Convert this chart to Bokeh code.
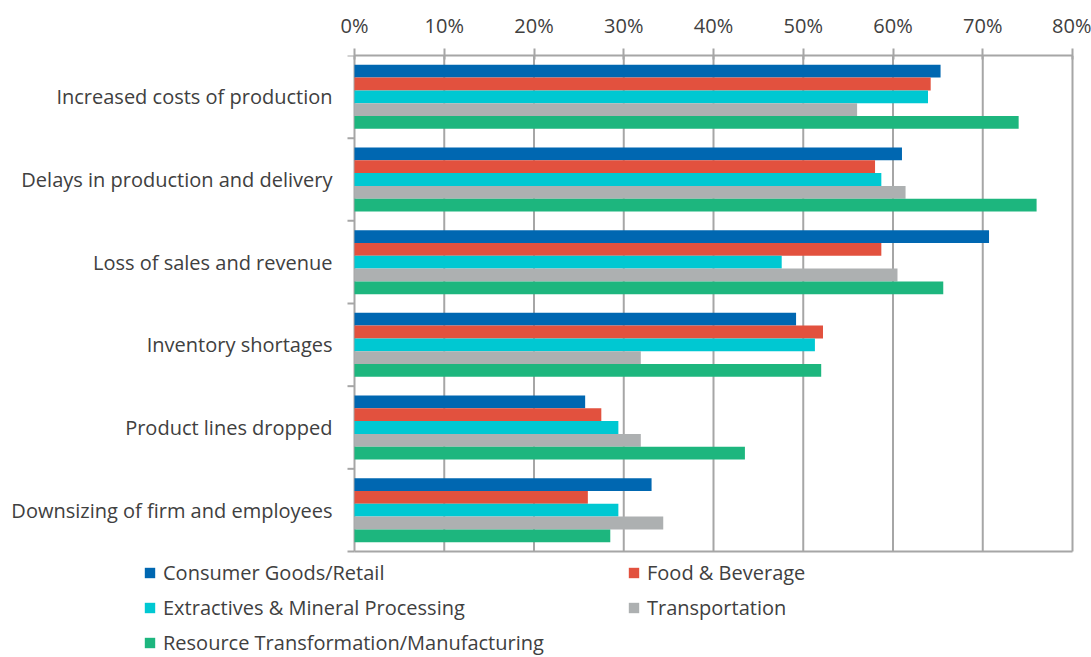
import numpy as np
from bokeh.plotting import figure
from bokeh.models import (ColumnDataSource, Range1d, FixedTicker, NumeralTickFormatter,
                          Legend, LegendItem, LinearAxis)
from bokeh.core.properties import value
from bokeh.embed import file_html
from bokeh.resources import INLINE

categories = ["Increased costs of production", "Delays in production and delivery",
              "Loss of sales and revenue", "Inventory shortages",
              "Product lines dropped", "Downsizing of firm and employees"]
series_names = ["Consumer Goods/Retail", "Food & Beverage", "Extractives & Mineral Processing",
                "Transportation", "Resource Transformation/Manufacturing"]
consumer = [0.653, 0.610, 0.707, 0.492, 0.257, 0.331]
food = [0.642, 0.580, 0.587, 0.522, 0.275, 0.260]
extractives = [0.639, 0.587, 0.476, 0.513, 0.294, 0.294]
transportation = [0.560, 0.614, 0.605, 0.319, 0.319, 0.344]
resource = [0.740, 0.760, 0.656, 0.520, 0.435, 0.285]
colors = ["#0067B1", "#E2513E", "#00C8D2", "#ADB0B1", "#1DB67E"]
x_ticks = [0, 0.1, 0.2, 0.3, 0.4, 0.5, 0.6, 0.7, 0.8]

FONT = "Open Sans"
FS = "20px"
TXT = "#404040"
GRID = "#A6A6A6"

# frame spans the whole canvas width; 0% sits at px 354 and 80% at px 1072
px_per_unit = 718 / 0.8
x_start = -354 / px_per_unit
x_end = 0.8 + 19 / px_per_unit
# categories: 0 at px 55 (frame top), 6 at px 551; frame bottom at px 657
y_px = (551 - 55) / 6
y_bottom = (657 - 55) / y_px

p = figure(width=1091, height=657, output_backend="svg", toolbar_location=None,
           x_range=Range1d(x_start, x_end), y_range=Range1d(y_bottom, 0),
           x_axis_location=None, y_axis_location=None,
           min_border_left=0, min_border_right=0, min_border_top=55, min_border_bottom=0)
p.xgrid.visible = False
p.ygrid.visible = False
p.outline_line_color = None

xaxis = LinearAxis(ticker=FixedTicker(ticks=x_ticks),
                   formatter=NumeralTickFormatter(format="0%"), bounds=(0, 0.8))
xaxis.axis_line_color = GRID
xaxis.axis_line_width = 2
xaxis.major_tick_line_color = GRID
xaxis.major_tick_line_width = 2
xaxis.major_tick_out = 7
xaxis.major_tick_in = 4
xaxis.minor_tick_line_color = None
xaxis.major_label_standoff = 10
xaxis.major_label_text_font = FONT
xaxis.major_label_text_font_size = FS
xaxis.major_label_text_color = TXT
p.add_layout(xaxis, "above")

n = len(categories)
centers = [i + 0.5 for i in range(n)]
bounds_y = list(range(n + 1))

# vertical gridlines (incl. value axis at 0% and right border at 80%)
p.segment(x0=x_ticks, y0=[0] * len(x_ticks), x1=x_ticks, y1=[n] * len(x_ticks),
          line_color=GRID, line_width=2)
# bottom border
p.segment(x0=[0], y0=[n], x1=[0.8], y1=[n], line_color=GRID, line_width=2)
# category separator ticks on the left
p.ray(x=[0] * len(bounds_y), y=bounds_y, length=7, angle=np.pi, length_units="screen",
      line_color=GRID, line_width=2)
# category labels
p.text(x=[0] * n, y=centers, text=categories, x_offset=-22, text_align="right",
       text_baseline="middle", text_font=value(FONT), text_font_size=FS, text_color=TXT)

bar_h = 0.155
all_series = [consumer, food, extractives, transportation, resource]
renderers = []
for k, vals in enumerate(all_series):
    src = ColumnDataSource(dict(y=[c + (k - 2) * bar_h for c in centers], right=vals))
    r = p.hbar(y="y", left=0, right="right", height=bar_h, source=src,
               fill_color=colors[k], line_color=None)
    renderers.append(r)

def make_legend(idx, vx, vy):
    items = [LegendItem(label=series_names[i], renderers=[renderers[i]]) for i in idx]
    lg = Legend(items=items, location=(vx, vy), orientation="vertical")
    lg.padding = 0
    lg.margin = 0
    lg.spacing = 8
    lg.border_line_color = None
    lg.background_fill_alpha = 0
    lg.glyph_width = 13
    lg.glyph_height = 13
    lg.label_height = 20
    lg.label_standoff = 7
    lg.label_text_font = FONT
    lg.label_text_font_size = FS
    lg.label_text_color = TXT
    lg.label_text_baseline = "middle"
    p.add_layout(lg, "center")

make_legend([0, 2, 4], 143, 1)
make_legend([1, 3], 627, 36)

open("out.html", "w").write(file_html(p, INLINE))
